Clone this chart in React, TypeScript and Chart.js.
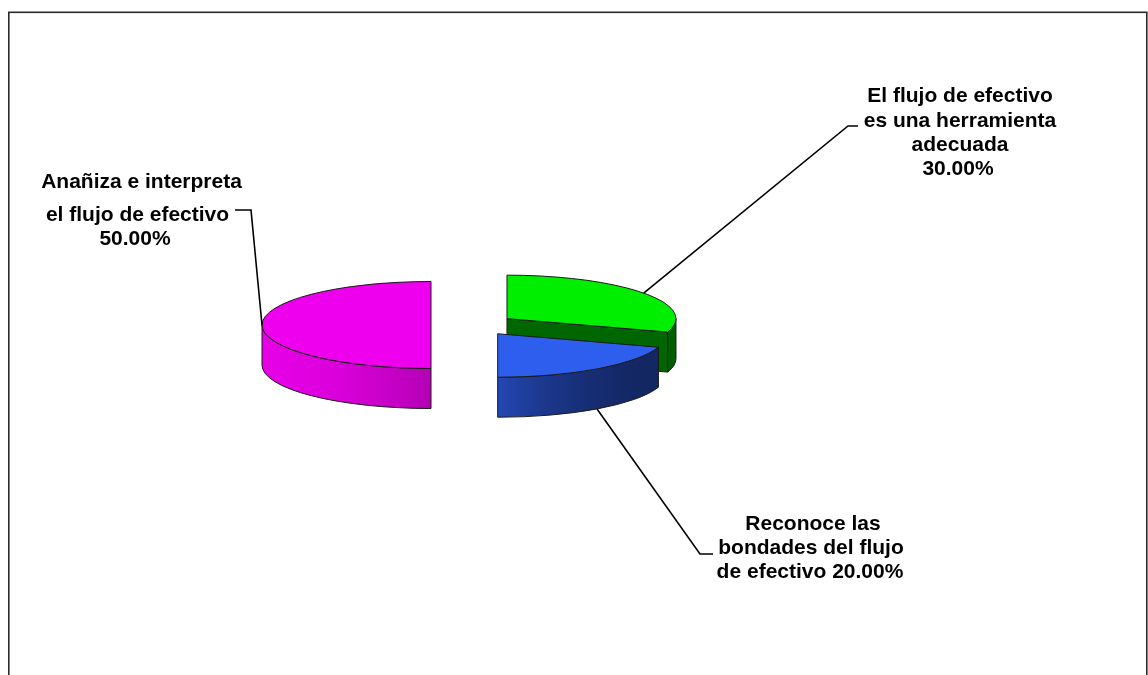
import React, { useEffect, useRef } from 'react';
import { Chart, registerables } from 'chart.js';

Chart.register(...registerables);

// ---- data ----
const categories = [
  'El flujo de efectivo es una herramienta adecuada',
  'Reconoce las bondades del flujo de efectivo',
  'Anañiza e interpreta el flujo de efectivo',
];
const percentages = [30, 20, 50];
const labelLines = [
  ['El flujo de efectivo', 'es una herramienta', 'adecuada'],
  ['Reconoce las', 'bondades del flujo', 'de efectivo'],
  ['Anañiza e interpreta', 'el flujo de efectivo'],
];
const sliceColors: number[][] = [
  [0, 238, 0],
  [46, 94, 238],
  [238, 0, 238],
];

// ---- layout / style ----
const PIE_RADIUS = 169;
const TILT = 0.2574; // vertical squash of the pie (ry / rx)
const DEPTH = 40; // thickness of the 3D pie in px
const EXPLODE = 42;
const FONT = 'bold 21px "Liberation Sans", Arial, sans-serif';

const LABEL_LAYOUT = [
  { xs: [960, 960, 960, 958], baselines: [102, 126.5, 151, 175], pctOwnLine: true, attach: 'top', elbow: [848, 126], end: [858, 126] },
  { xs: [813, 811, 810], baselines: [530, 554, 578], pctOwnLine: false, attach: 'bottom', elbow: [700, 554], end: [713, 554] },
  { xs: [141.5, 137.5, 135], baselines: [188, 221, 245], pctOwnLine: true, attach: 'top', elbow: [251, 210], end: [235, 210] },
];

const rgb = (c: number[], b = 1) =>
  `rgb(${Math.round(c[0] * b)},${Math.round(c[1] * b)},${Math.round(c[2] * b)})`;

// brightness of the curved side as a function of angle (deg, 0 = right, 90 = front, 180 = left)
const SIDE_SHADE: [number, number][] = [
  [180, 0.97], [150, 0.96], [125, 0.92], [105, 0.84], [90, 0.75], [75, 0.6], [60, 0.5], [40, 0.43], [0, 0.4],
];
const RADIAL_SHADE = 0.43;

function geometry(chart: any) {
  const meta = chart.getDatasetMeta(0);
  return meta.data.map((el: any, i: number) => {
    const p = el.getProps(['x', 'y', 'startAngle', 'endAngle', 'outerRadius'], true);
    const off = (el.options && el.options.offset) || 0;
    const mid = (p.startAngle + p.endAngle) / 2;
    const cx = p.x + Math.cos(mid) * off;
    const cy = p.y + Math.sin(mid) * off * TILT;
    const R = p.outerRadius;
    return { i, a1: p.startAngle, a2: p.endAngle, mid, cx, cy, R, Ry: R * TILT };
  });
}

const pie3d = {
  id: 'pie3d',
  beforeDatasetsDraw(chart: any) {
    const ctx: CanvasRenderingContext2D = chart.ctx;
    const items = geometry(chart).slice().sort((a: any, b: any) => a.cy - b.cy);
    const h = DEPTH;
    ctx.save();
    ctx.lineJoin = 'round';
    ctx.lineWidth = 1;
    ctx.strokeStyle = '#1a1a1a';
    for (const s of items) {
      const col = sliceColors[s.i];
      const P = (a: number, dy = 0) => [s.cx + s.R * Math.cos(a), s.cy + s.Ry * Math.sin(a) + dy];
      // radial faces
      const faces = [
        { a: s.a1, n: s.a1 - Math.PI / 2 },
        { a: s.a2, n: s.a2 + Math.PI / 2 },
      ];
      for (const f of faces) {
        if (Math.sin(f.n) <= 1e-3) continue;
        const [px, py] = P(f.a);
        ctx.beginPath();
        ctx.moveTo(s.cx, s.cy);
        ctx.lineTo(px, py);
        ctx.lineTo(px, py + h);
        ctx.lineTo(s.cx, s.cy + h);
        ctx.closePath();
        ctx.fillStyle = rgb(col, RADIAL_SHADE);
        ctx.fill();
        ctx.stroke();
      }
      // curved outer side (front half only)
      const ranges: [number, number][] = [];
      for (const base of [-2 * Math.PI, 0, 2 * Math.PI]) {
        const lo = Math.max(s.a1, base);
        const hi = Math.min(s.a2, base + Math.PI);
        if (hi - lo > 1e-4) ranges.push([lo, hi]);
      }
      for (const [lo, hi] of ranges) {
        const g = ctx.createLinearGradient(s.cx - s.R, 0, s.cx + s.R, 0);
        for (const [deg, b] of SIDE_SHADE) {
          const t = (1 + Math.cos((deg * Math.PI) / 180)) / 2;
          g.addColorStop(Math.min(1, Math.max(0, t)), rgb(col, b));
        }
        ctx.beginPath();
        ctx.ellipse(s.cx, s.cy, s.R, s.Ry, 0, lo, hi, false);
        const [ex, ey] = P(hi, h);
        ctx.lineTo(ex, ey);
        ctx.ellipse(s.cx, s.cy + h, s.R, s.Ry, 0, hi, lo, true);
        ctx.closePath();
        ctx.fillStyle = g;
        ctx.fill();
        ctx.stroke();
      }
      // top face
      ctx.beginPath();
      ctx.moveTo(s.cx, s.cy);
      ctx.ellipse(s.cx, s.cy, s.R, s.Ry, 0, s.a1, s.a2, false);
      ctx.closePath();
      ctx.fillStyle = rgb(col);
      ctx.fill();
      ctx.stroke();
    }
    ctx.restore();
    return false;
  },
  afterDraw(chart: any) {
    const ctx: CanvasRenderingContext2D = chart.ctx;
    const items = geometry(chart);
    const values = chart.data.datasets[0].data as number[];
    ctx.save();
    // frame
    ctx.strokeStyle = '#2a2a2a';
    ctx.lineWidth = 1.6;
    ctx.strokeRect(8.8, 12.3, 1138, 700);
    // leader lines + labels
    ctx.strokeStyle = '#000';
    ctx.lineWidth = 1.6;
    ctx.font = FONT;
    ctx.fillStyle = '#000';
    ctx.textAlign = 'center';
    ctx.textBaseline = 'alphabetic';
    items.forEach((s: any) => {
      const L = LABEL_LAYOUT[s.i];
      const sx = s.cx + s.R * Math.cos(s.mid);
      const sy = s.cy + s.Ry * Math.sin(s.mid) + (L.attach === 'bottom' ? DEPTH : 0);
      ctx.beginPath();
      ctx.moveTo(sx, sy);
      ctx.lineTo(L.elbow[0], L.elbow[1]);
      ctx.lineTo(L.end[0], L.end[1]);
      ctx.stroke();
      const pct = values[s.i].toFixed(2) + '%';
      const lines = [...labelLines[s.i]];
      if (L.pctOwnLine) lines.push(pct);
      else lines[lines.length - 1] = lines[lines.length - 1] + ' ' + pct;
      lines.forEach((t, j) => ctx.fillText(t, L.xs[j], L.baselines[j]));
    });
    ctx.restore();
  },
};

export default function App() {
  const ref = useRef<HTMLCanvasElement>(null);
  useEffect(() => {
    const chart = new Chart(ref.current as HTMLCanvasElement, {
      type: 'pie',
      data: {
        labels: categories,
        datasets: [
          {
            data: percentages,
            backgroundColor: sliceColors.map((c) => rgb(c)),
            borderWidth: 0,
            offset: EXPLODE,
          } as any,
        ],
      },
      options: {
        responsive: false,
        animation: false,
        radius: PIE_RADIUS,
        events: [],
        layout: { padding: { left: 0, top: 0, right: 1148 - 2 * 473, bottom: 675 - 2 * 325 } },
        plugins: { legend: { display: false }, tooltip: { enabled: false } },
      } as any,
      plugins: [pie3d as any],
    });
    return () => chart.destroy();
  }, []);
  return (
    <div style={{ position: 'absolute', left: 0, top: 0, width: 1148, height: 675, background: '#fff' }}>
      <canvas ref={ref} width={1148} height={675} style={{ display: 'block', width: 1148, height: 675 }} />
    </div>
  );
}
